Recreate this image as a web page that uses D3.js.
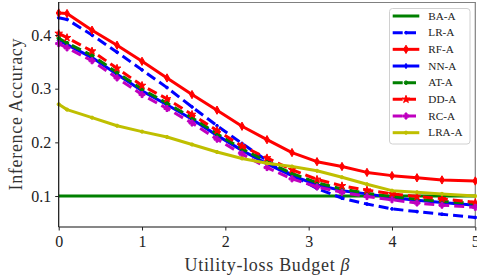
<!DOCTYPE html>
<html><head><meta charset="utf-8">
<script src="https://cdn.jsdelivr.net/npm/d3@7"></script>
<style>
html,body{margin:0;padding:0;background:#fff;}
svg{display:block;font-family:"Liberation Serif","Times New Roman",serif;}
</style></head>
<body>
<svg id="chart" width="477" height="279"></svg>
<script>
const budgets = [0,0.1,0.4,0.7,1.0,1.3,1.6,1.9,2.2,2.5,2.8,3.1,3.4,3.7,4.0,4.3,4.6,5.0];
const seriesNames = ["BA-A","LR-A","RF-A","NN-A","AT-A","DD-A","RC-A","LRA-A"];
const baA  = [0.1,0.1,0.1,0.1,0.1,0.1,0.1,0.1,0.1,0.1,0.1,0.1,0.1,0.1,0.1,0.1,0.1,0.1];
const lrA  = [0.432,0.429,0.400,0.368,0.335,0.302,0.266,0.231,0.198,0.166,0.139,0.114,0.096,0.085,0.076,0.071,0.066,0.060];
const rfA  = [0.441,0.440,0.409,0.381,0.351,0.320,0.289,0.260,0.230,0.205,0.181,0.164,0.155,0.144,0.138,0.134,0.130,0.128];
const nnA  = [0.390,0.382,0.358,0.327,0.296,0.270,0.243,0.213,0.185,0.160,0.138,0.121,0.110,0.104,0.097,0.092,0.088,0.083];
const atA  = [0.394,0.385,0.362,0.330,0.299,0.273,0.246,0.216,0.188,0.164,0.142,0.125,0.113,0.105,0.099,0.094,0.090,0.086];
const ddA  = [0.403,0.395,0.370,0.338,0.306,0.281,0.252,0.222,0.193,0.171,0.149,0.131,0.119,0.111,0.104,0.099,0.095,0.088];
const rcA  = [0.384,0.376,0.352,0.320,0.289,0.263,0.236,0.206,0.178,0.153,0.132,0.117,0.107,0.099,0.093,0.087,0.083,0.079];
const lraA = [0.271,0.261,0.246,0.231,0.220,0.210,0.196,0.182,0.170,0.161,0.155,0.147,0.135,0.122,0.110,0.107,0.104,0.100];
const xTicks = [0,1,2,3,4,5];
const yTicks = [0.1,0.2,0.3,0.4];
const xTitle = "Utility-loss Budget ";
const yTitle = "Inference Accuracy";

const seriesValues = [baA,lrA,rfA,nnA,atA,ddA,rcA,lraA];
const colors = ["#008000","#0000ff","#ff0000","#0000ff","#008000","#ff0000","#bf00bf","#bfbf00"];
const dashed = [false,true,false,false,true,true,true,false];
const markers = [null, d3.symbolCircle, d3.symbolDiamond, d3.symbolDiamond, d3.symbolCircle, d3.symbolStar, d3.symbolCross, d3.symbolCircle];
const markerSize = [0, 6, 20, 8, 10, 18, 20, 8];

const svg = d3.select("#chart");
const L = 58.7, R = 475.3, T = 2, B = 227;
const x = d3.scaleLinear().domain([0,5]).range([L,R]);
const y = d3.scaleLinear().domain([0.0423,0.4615]).range([B,T]);

// frame (top/right gray)
svg.append("line").attr("x1",L).attr("x2",R).attr("y1",T+0.5).attr("y2",T+0.5).attr("stroke","#808080").attr("stroke-width",1.2);
svg.append("line").attr("x1",R).attr("x2",R).attr("y1",T).attr("y2",B).attr("stroke","#808080").attr("stroke-width",1.2);

const line = d3.line().x((d,i)=>x(budgets[i])).y(d=>y(d));
seriesValues.forEach((vals,k)=>{
  const g = svg.append("g");
  g.append("path").datum(vals).attr("d",line).attr("fill","none")
    .attr("stroke",colors[k]).attr("stroke-width",3)
    .attr("stroke-dasharray",dashed[k]?"10,5":null)
    .attr("stroke-linejoin","round");
  if(markers[k]){
    const sym = d3.symbol().type(markers[k]).size(markerSize[k]);
    g.selectAll("path.m").data(vals).join("path").attr("class","m")
      .attr("d",sym).attr("transform",(d,i)=>`translate(${x(budgets[i])},${y(d)})`)
      .attr("fill",colors[k]).attr("stroke",colors[k]).attr("stroke-width",1);
  }
});

// axes
const xAxis = d3.axisBottom(x).tickValues(xTicks).tickFormat(d3.format("d")).tickSize(3.5).tickPadding(5);
const gx = svg.append("g").attr("transform",`translate(0,${B})`).call(xAxis);
const yAxis = d3.axisLeft(y).tickValues(yTicks).tickFormat(d3.format(".1f")).tickSize(3.5).tickPadding(4);
const gy = svg.append("g").attr("transform",`translate(${L},0)`).call(yAxis);
[gx,gy].forEach(g=>{
  g.selectAll("text").attr("font-family","Liberation Serif").attr("font-size",16).attr("fill","#222");
  g.selectAll("line").attr("stroke","#222");
  g.select(".domain").attr("stroke","#111").attr("stroke-width",1.2);
});
gx.select(".domain").attr("d",`M${L},0H${R}`);
gy.select(".domain").attr("d",`M0,${B}V${T}`);

// titles
const xt = svg.append("text").attr("x",(L+R)/2).attr("y",271).attr("text-anchor","middle")
  .attr("font-size",18).attr("fill","#333").attr("textLength",165).attr("lengthAdjust","spacing");
xt.append("tspan").text(xTitle);
xt.append("tspan").attr("font-style","italic").text("β");
svg.append("text").attr("transform",`translate(22,${(T+B)/2}) rotate(-90)`).attr("text-anchor","middle")
  .attr("font-size",18).attr("fill","#333").attr("textLength",152).attr("lengthAdjust","spacing").text(yTitle);

// legend
const lg = svg.append("g");
lg.append("rect").attr("x",389.5).attr("y",8.5).attr("width",80.5).attr("height",135.5).attr("rx",3)
  .attr("fill","#fff").attr("fill-opacity",0.85).attr("stroke","#d0d0d0").attr("stroke-width",1);
seriesNames.forEach((name,k)=>{
  const cy = 16 + k*16.67;
  lg.append("line").attr("x1",392.7).attr("x2",419.3).attr("y1",cy).attr("y2",cy)
    .attr("stroke",colors[k]).attr("stroke-width",3).attr("stroke-dasharray",dashed[k]?"10,3.3":null);
  if(markers[k]){
    lg.append("path").attr("d",d3.symbol().type(markers[k]).size(markerSize[k])())
      .attr("transform",`translate(406,${cy})`).attr("fill",colors[k]).attr("stroke",colors[k]);
  }
  lg.append("text").attr("x",428.3).attr("y",cy+3.8).attr("font-size",11.2).attr("fill","#222").text(name);
});
</script>
</body></html>
